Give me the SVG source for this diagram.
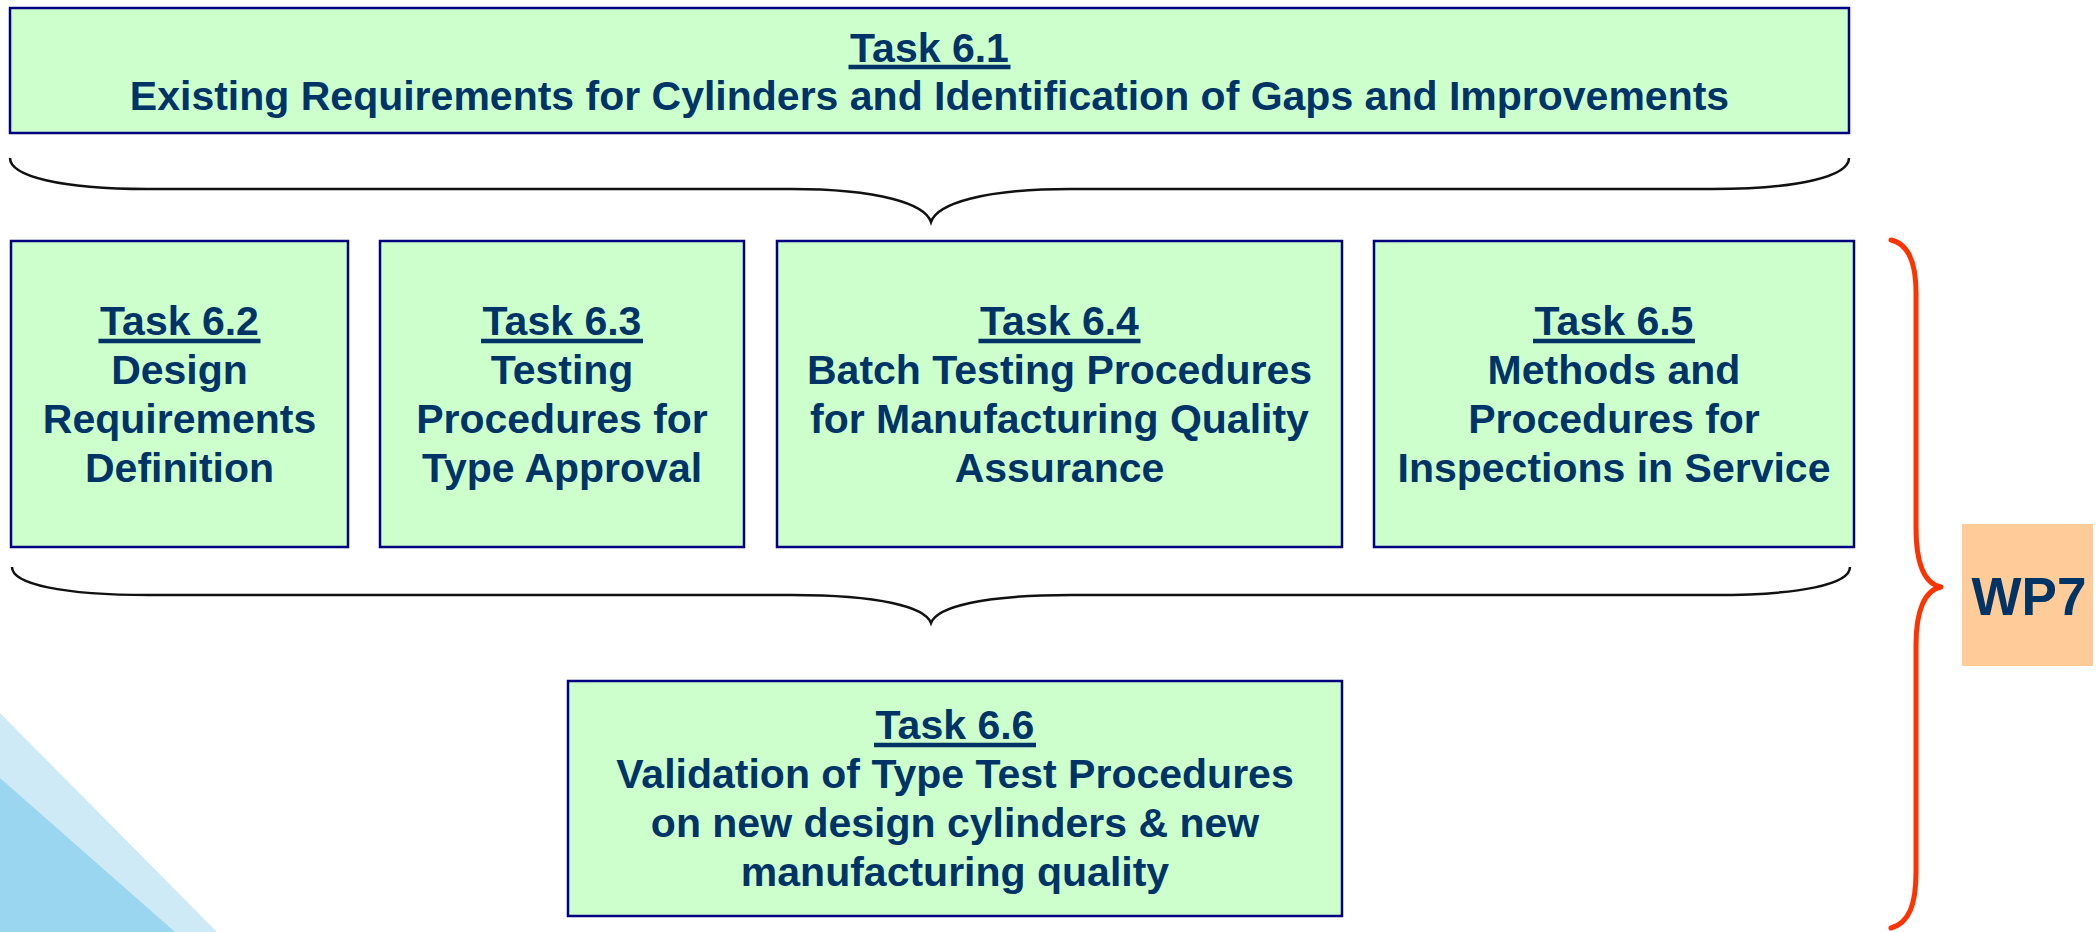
<svg xmlns="http://www.w3.org/2000/svg" width="2098" height="932" viewBox="0 0 2098 932">
  <style>
    .box { fill: #CCFFCC; stroke: #000080; stroke-width: 2.5; }
    .t { font-family: "Liberation Sans", Arial, sans-serif; font-weight: bold; font-size: 41px; fill: #003366; text-anchor: middle; }
    .ul { stroke: #003366; stroke-width: 4.5; }
    .brace { fill: none; stroke: #111111; stroke-width: 2.5; }
    .wp { fill: none; stroke: #FF3300; stroke-width: 5; stroke-linecap: round; stroke-linejoin: round; }
  </style>

  <!-- corner decoration -->
  <g id="decor">
    <polygon points="0,713 217,932 0,932" fill="#CFEAF7"/>
    <polygon points="0,778 175,932 0,932" fill="#9AD6F0"/>
  </g>

  <g id="task61">
    <rect class="box" x="10" y="8" width="1839" height="125"/>
    <text class="t" x="929.5" y="62">Task 6.1</text>
    <line class="ul" x1="848.5" y1="67" x2="1010.5" y2="67"/>
    <text class="t" x="929.5" y="110">Existing Requirements for Cylinders and Identification of Gaps and Improvements</text>
  </g>

  <g id="task62">
    <rect class="box" x="11" y="241" width="337" height="306"/>
    <text class="t" x="179.5" y="335">Task 6.2</text>
    <line class="ul" x1="98.5" y1="341" x2="260.5" y2="341"/>
    <text class="t" x="179.5" y="384">Design</text>
    <text class="t" x="179.5" y="433">Requirements</text>
    <text class="t" x="179.5" y="482">Definition</text>
  </g>

  <g id="task63">
    <rect class="box" x="380" y="241" width="364" height="306"/>
    <text class="t" x="562" y="335">Task 6.3</text>
    <line class="ul" x1="481" y1="341" x2="643" y2="341"/>
    <text class="t" x="562" y="384">Testing</text>
    <text class="t" x="562" y="433">Procedures for</text>
    <text class="t" x="562" y="482">Type Approval</text>
  </g>

  <g id="task64">
    <rect class="box" x="777" y="241" width="565" height="306"/>
    <text class="t" x="1059.5" y="335">Task 6.4</text>
    <line class="ul" x1="978.5" y1="341" x2="1140.5" y2="341"/>
    <text class="t" x="1059.5" y="384">Batch Testing Procedures</text>
    <text class="t" x="1059.5" y="433">for Manufacturing Quality</text>
    <text class="t" x="1059.5" y="482">Assurance</text>
  </g>

  <g id="task65">
    <rect class="box" x="1374" y="241" width="480" height="306"/>
    <text class="t" x="1614" y="335">Task 6.5</text>
    <line class="ul" x1="1533" y1="341" x2="1695" y2="341"/>
    <text class="t" x="1614" y="384">Methods and</text>
    <text class="t" x="1614" y="433">Procedures for</text>
    <text class="t" x="1614" y="482">Inspections in Service</text>
  </g>

  <g id="task66">
    <rect class="box" x="568" y="681" width="774" height="235"/>
    <text class="t" x="955" y="739">Task 6.6</text>
    <line class="ul" x1="874" y1="745" x2="1036" y2="745"/>
    <text class="t" x="955" y="788">Validation of Type Test Procedures</text>
    <text class="t" x="955" y="837">on new design cylinders &amp; new</text>
    <text class="t" x="955" y="886">manufacturing quality</text>
  </g>

  <g id="wp7">
    <rect x="1962" y="524" width="131" height="142" fill="#FFCC99"/>
    <text x="2029" y="615" font-family="Liberation Sans, Arial, sans-serif" font-weight="bold" font-size="53" fill="#003366" text-anchor="middle">WP7</text>
  </g>

  <g id="connectors">
    <path class="brace" d="M10,158 C10,176 60,189 147,189 L791,189 C880,189 925,204 931,222 C937,204 982,189 1071,189 L1712,189 C1800,189 1849,176 1849,158"/>
    <path class="brace" d="M12,567 C12,584 62,595 149,595 L792,595 C880,595 925,607 931,623 C937,607 982,595 1071,595 L1714,595 C1802,595 1850,584 1850,567"/>
    <path class="wp" d="M1891,240 C1909,244 1916,264 1916,293 L1916,527 C1916,565 1925,584 1941,587 C1925,590 1916,610 1916,645 L1916,872 C1916,905 1909,923 1891,928"/>
  </g>
</svg>
